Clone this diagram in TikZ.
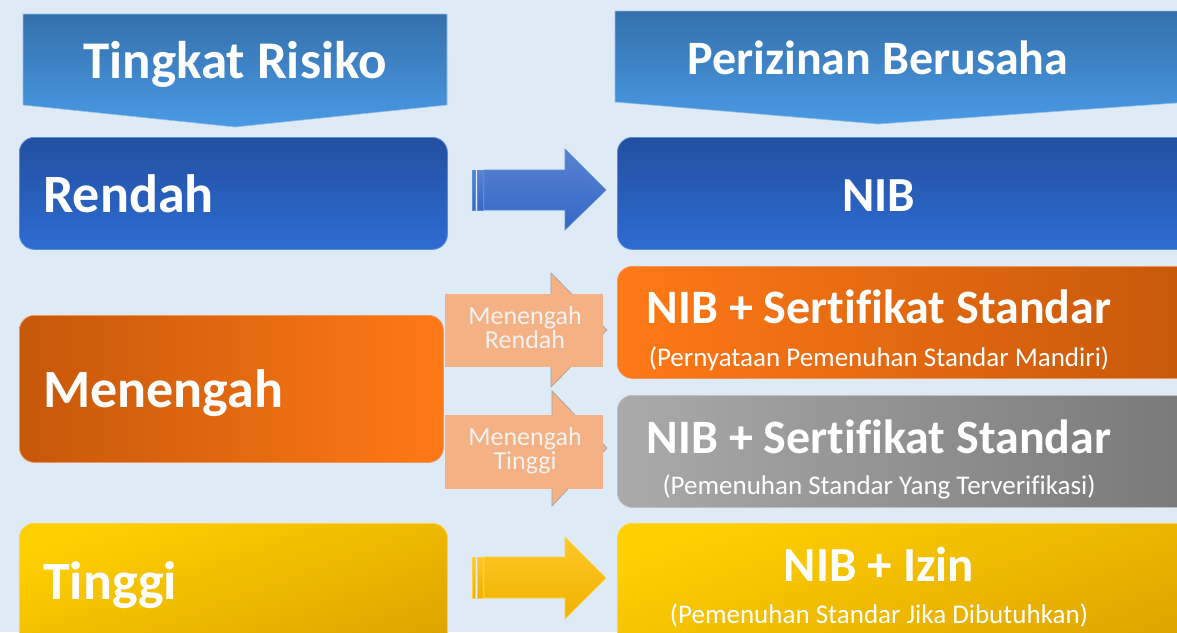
\documentclass[tikz,border=0pt]{standalone}
\usepackage{fontspec}
\setmainfont{Carlito}[Ligatures=NoCommon]
\definecolor{bg}{RGB}{222,234,246}
\definecolor{hdtop}{RGB}{52,112,172}
\definecolor{hdbot}{RGB}{74,154,228}
\definecolor{hdline}{RGB}{150,190,230}
\definecolor{bltop}{RGB}{34,80,160}
\definecolor{blbot}{RGB}{46,108,210}
\definecolor{blline}{RGB}{90,140,220}
\definecolor{artop}{RGB}{88,132,210}
\definecolor{arbot}{RGB}{52,102,196}
\definecolor{ordark}{RGB}{198,88,10}
\definecolor{orlight}{RGB}{255,121,22}
\definecolor{orline}{RGB}{240,150,90}
\definecolor{grlight}{RGB}{170,170,170}
\definecolor{grdark}{RGB}{120,120,120}
\definecolor{grline}{RGB}{190,190,190}
\definecolor{yetop}{RGB}{255,208,0}
\definecolor{yebot}{RGB}{222,164,0}
\definecolor{yeline}{RGB}{255,210,60}
\definecolor{yatop}{RGB}{255,200,40}
\definecolor{yabot}{RGB}{240,178,0}
\definecolor{salmon}{RGB}{244,177,131}
\definecolor{salline}{RGB}{160,160,160}
\definecolor{caltext}{RGB}{242,242,242}
\begin{document}
\begin{tikzpicture}[x=1pt,y=-1pt,
  box/.style={rectangle, rounded corners=15pt, anchor=north west, inner sep=0pt, line width=0.8pt},
  lbox/.style={box, minimum width=428pt},
  rbox/.style={box, minimum width=580pt},
  lbl/.style={text=white, font=\fontsize{54}{54}\selectfont\bfseries, anchor=base west, inner sep=0pt},
  big/.style={text=white, font=\fontsize{49}{49}\selectfont\bfseries, anchor=base, inner sep=0pt},
  sub/.style={text=white, font=\fontsize{27}{27}\selectfont, anchor=base, inner sep=0pt},
  cal/.style={text=caltext, font=\fontsize{26}{26}\selectfont, anchor=base, inner sep=0pt},
  hdr/.style={text=white, font=\fontsize{53}{53}\selectfont\bfseries, anchor=base, inner sep=0pt},
  blarrow/.style={top color=artop, bottom color=arbot, draw=blline, line width=0.6pt},
  yearrow/.style={top color=yatop, bottom color=yabot, draw=yeline, line width=0.6pt},
  callout/.style={fill=salmon}
]
\useasboundingbox (0,0) rectangle (1177,632);
\clip (0,0) rectangle (1177,632);
\fill[bg] (0,0) rectangle (1177,632);

% headers
\shade[top color=hdtop, bottom color=hdbot, draw=hdline, line width=0.6pt]
  (23,14) -- (447,14) -- (447,105) -- (235,127) -- (23,105) -- cycle;
\shade[top color=hdtop, bottom color=hdbot, draw=hdline, line width=0.6pt]
  (615,11) -- (1190,11) -- (1190,102) -- (878,124) -- (615,102) -- cycle;
\node[hdr] (hleft) at (235,78) {Tingkat Risiko};
\node[hdr, font=\fontsize{48}{48}\selectfont\bfseries] (hright) at (878,74) {Perizinan Berusaha};

% left boxes
\node[lbox, minimum height=112pt, top color=bltop, bottom color=blbot, draw=blline] (rendah) at (19,137) {};
\node[lbox, minimum width=424pt, minimum height=147pt, left color=ordark, right color=orlight, draw=orline] (menengah) at (19,315) {};
\node[lbox, minimum height=140pt, top color=yetop, bottom color=yebot, shading angle=20, draw=yeline] (tinggi) at (19,523) {};
\node[lbl] (trendah) at (43,212) {Rendah};
\node[lbl] (tmenengah) at (43,407) {Menengah};
\node[lbl] (ttinggi) at (43,599) {Tinggi};

% right boxes
\node[rbox, minimum height=112pt, top color=bltop, bottom color=blbot, draw=blline] (nib) at (617,137) {};
\node[rbox, minimum height=112pt, left color=orlight, right color=ordark, draw=orline] (sso) at (617,266) {};
\node[rbox, minimum height=112pt, left color=grlight, right color=grdark, draw=grline] (ssg) at (617,395) {};
\node[rbox, minimum height=140pt, top color=yetop, bottom color=yebot, shading angle=20, draw=yeline] (izin) at (617,523) {};

\node[big] (tnib) at (879,211) {NIB};
\node[big, font=\fontsize{48}{48}\selectfont\bfseries] (tsso) at (879,323) {NIB + Sertifikat Standar};
\node[sub] (ssso) at (879,366) {(Pernyataan Pemenuhan Standar Mandiri)};
\node[big, font=\fontsize{48}{48}\selectfont\bfseries] (tssg) at (879,453) {NIB + Sertifikat Standar};
\node[sub] (sssg) at (879,494) {(Pemenuhan Standar Yang Terverifikasi)};
\node[big] (tizin) at (879,581) {NIB + Izin};
\node[sub] (sizin) at (879,623) {(Pemenuhan Standar Jika Dibutuhkan)};

% block arrows
\shade[blarrow] (472,170) rectangle (475,210);
\shade[blarrow] (477,170) rectangle (483,210);
\shade[blarrow] (484,170) -- (565,170) -- (565,149) -- (606,190) -- (565,230) -- (565,210) -- (484,210) -- cycle;
\shade[yearrow] (472,557) rectangle (475,598);
\shade[yearrow] (477,557) rectangle (483,598);
\shade[yearrow] (484,557) -- (565,557) -- (565,537) -- (606,578) -- (565,619) -- (565,598) -- (484,598) -- cycle;

% callouts
\filldraw[callout, draw=salline, line width=0.6pt] (551,273) -- (607,330) -- (551,387) -- cycle;
\fill[callout] (445,294) rectangle (603,367);
\node[cal] (c1a) at (525,324) {Menengah};
\node[cal] (c1b) at (525,348) {Rendah};
\filldraw[callout, draw=salline, line width=0.6pt] (552,391) -- (607,448) -- (552,506) -- cycle;
\fill[callout] (445,415) rectangle (603,489);
\node[cal] (c2a) at (525,445) {Menengah};
\node[cal] (c2b) at (525,469) {Tinggi};
\end{tikzpicture}
\end{document}
